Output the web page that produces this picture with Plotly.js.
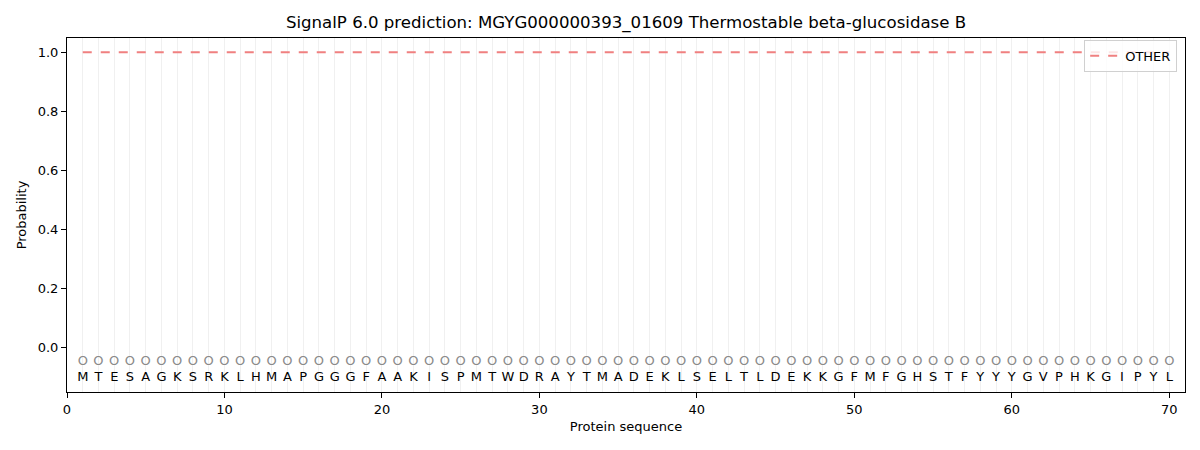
<!DOCTYPE html>
<html>
<head>
<meta charset="utf-8">
<script src="https://cdn.plot.ly/plotly-3.0.1.min.js"></script>
<style>body{margin:0;padding:0;background:#fff}#chart{width:1200px;height:450px}</style>
</head>
<body>
<div id="chart"></div>
<script>
const sequence = "MTESAGKSRKLHMAPGGGFAAKISPMTWDRAYTMADEKLSELTLDEKKGFMFGHSTFYYYGVPHKGIPYL".split("");
const positions = sequence.map((_, i) => i + 1);
const probOther = sequence.map(() => 1.0);
const predictedLabels = sequence.map(() => "O");
const labelY = -0.048;
const residueY = -0.103;

const traces = [
  {
    x: positions, y: probOther, type: "scatter", mode: "lines", name: "OTHER",
    line: {color: "#f08080", width: 2, dash: "dash"}
  },
  {
    x: positions, y: positions.map(() => labelY), type: "scatter", mode: "text",
    text: predictedLabels, textfont: {family: "DejaVu Sans", size: 13, color: "#8a8a8a"},
    showlegend: false, hoverinfo: "skip"
  },
  {
    x: positions, y: positions.map(() => residueY), type: "scatter", mode: "text",
    text: sequence, textfont: {family: "DejaVu Sans", size: 13, color: "#000"},
    showlegend: false, hoverinfo: "skip"
  }
];

const layout = {
  width: 1200, height: 450,
  margin: {l: 67, r: 15, t: 38, b: 58},
  paper_bgcolor: "#fff", plot_bgcolor: "#fff",
  font: {family: "DejaVu Sans", size: 13, color: "#000"},
  title: {text: "SignalP 6.0 prediction: MGYG000000393_01609 Thermostable beta-glucosidase B",
          font: {size: 16.6, color: "#000"}, xref: "paper", x: 0.5, xanchor: "center", y: 0.95, yanchor: "middle"},
  xaxis: {
    range: [0, 71], tickvals: [0, 10, 20, 30, 40, 50, 60, 70], ticks: "outside", ticklen: 5,
    tickcolor: "#000", showline: true, linecolor: "#000", linewidth: 1, mirror: true,
    showgrid: false, zeroline: false,
    title: {text: "Protein sequence", font: {size: 13}, standoff: 6},
    minor: {dtick: 1, tick0: 0, showgrid: true, gridcolor: "#f0f0f0", gridwidth: 1.3, ticks: ""}
  },
  yaxis: {
    range: [-0.152, 1.048], tickvals: [0, 0.2, 0.4, 0.6, 0.8, 1.0], tickformat: ".1f",
    ticks: "outside", ticklen: 5, tickcolor: "#000", showline: true, linecolor: "#000",
    linewidth: 1, mirror: true, showgrid: false, zeroline: false,
    title: {text: "Probability", font: {size: 13}, standoff: 8}
  },
  legend: {
    x: 0.993, y: 0.995, xanchor: "right", yanchor: "top",
    bgcolor: "rgba(255,255,255,0.8)", bordercolor: "#d0d0d0", borderwidth: 1,
    font: {size: 13}
  },
  showlegend: true
};

Plotly.newPlot("chart", traces, layout, {displayModeBar: false});
</script>
</body>
</html>
